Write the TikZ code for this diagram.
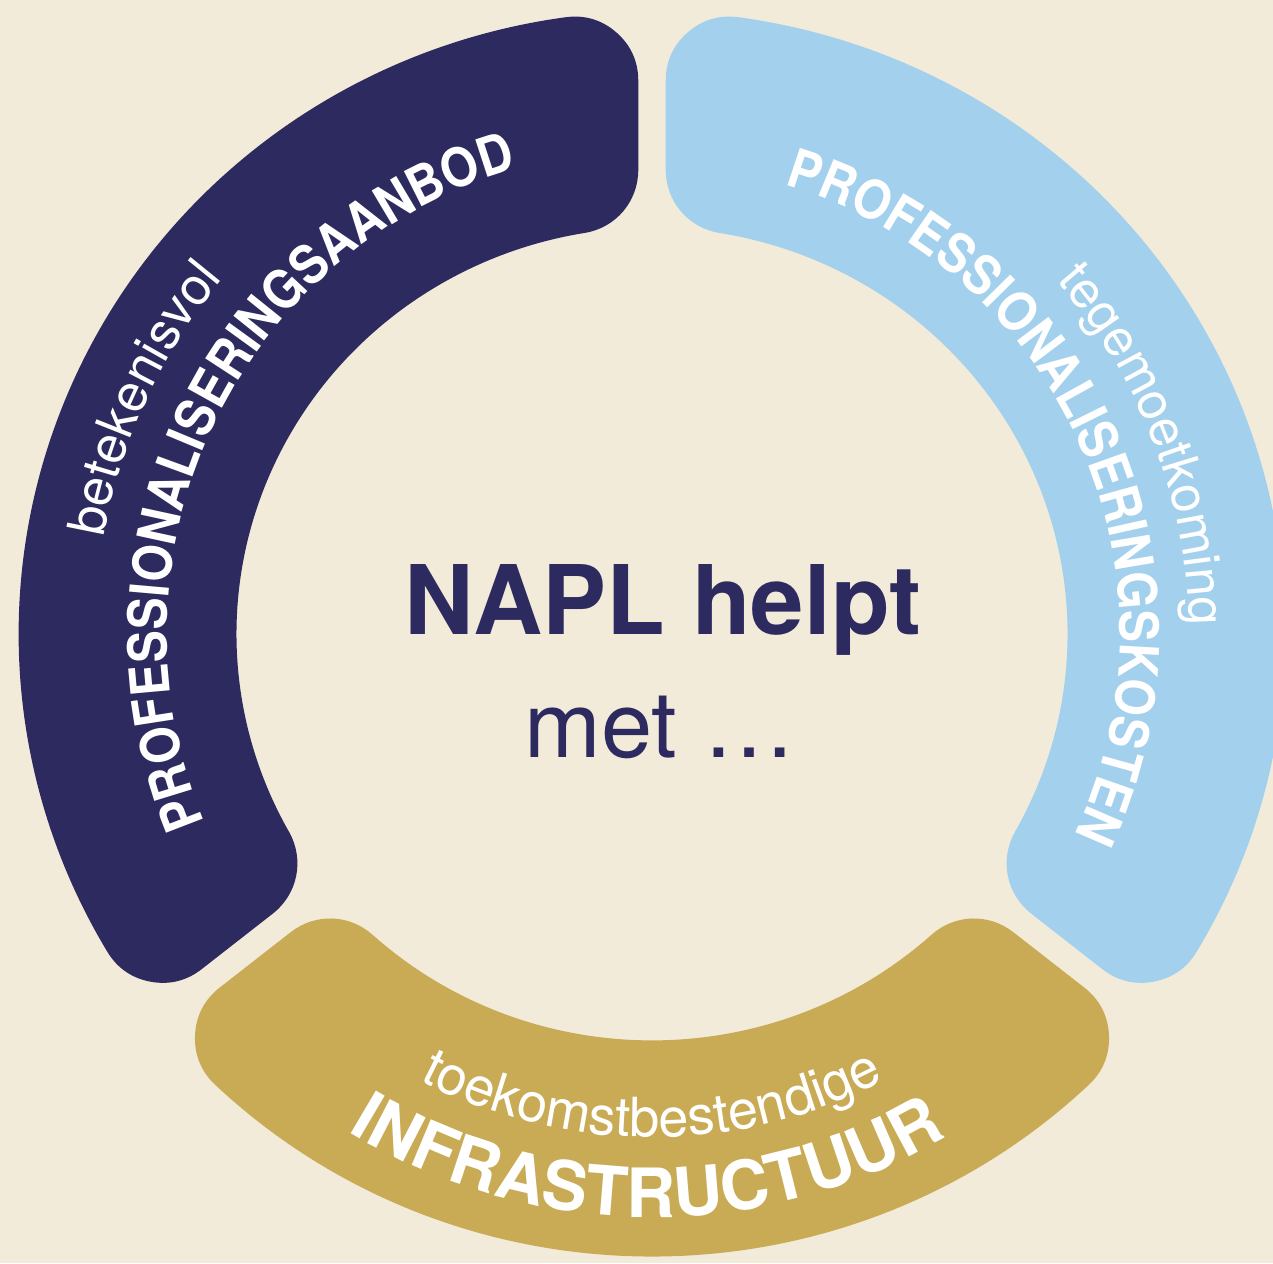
\documentclass[tikz,border=0pt]{standalone}
\usepackage{fontspec}
\setmainfont{TeX Gyre Heros}
\newfontfamily\arcbold{TeX Gyre Heros}[FakeStretch=0.89]
\usetikzlibrary{decorations.text,calc}
\definecolor{bg}{RGB}{242,235,218}
\definecolor{navy}{RGB}{44,42,94}
\definecolor{sky}{RGB}{163,209,237}
\definecolor{gold}{RGB}{201,171,86}
\newcommand\napseg[3]{%
  \pgfmathsetmacro\rr{64}%
  \pgfmathsetmacro\ro{628-\rr}\pgfmathsetmacro\ri{411+\rr}\pgfmathsetmacro\dd{13+\rr}%
  \pgfmathsetmacro\lw{2*\rr}%
  \pgfmathsetmacro\aoS{#2+asin(\dd/\ro)}\pgfmathsetmacro\aoE{#3-asin(\dd/\ro)}%
  \pgfmathsetmacro\aiS{#2+asin(\dd/\ri)}\pgfmathsetmacro\aiE{#3-asin(\dd/\ri)}%
  \filldraw[#1, line width=\lw pt, line join=round]
    (\aoS:\ro pt) arc[start angle=\aoS, end angle=\aoE, radius=\ro pt]
    -- (\aiE:\ri pt) arc[start angle=\aiE, end angle=\aiS, radius=\ri pt] -- cycle;}
\newcommand\naparc[5]{% radius, start, end, font, text
  \path[decorate, decoration={text along path, text align=center, text color=white,
      text={|#4|#5}}]
    ([shift={(C)}]#2:#1pt) arc[start angle=#2, end angle=#3, radius=#1pt];}
\begin{document}
\begin{tikzpicture}[x=1pt,y=1pt]
\fill[bg] (0,0) rectangle (1273,1263);
\useasboundingbox (0,0) rectangle (1273,1263);
\coordinate (C) at (652,629);
\begin{scope}[shift={(652,629)}, xscale=1.0096, yscale=0.9904]
\napseg{navy}{90}{218.5}
\napseg{sky}{-38.5}{90}
\napseg{gold}{218.5}{321.5}
\end{scope}
% dark arc texts
\naparc{485}{214.5}{94.5}{\arcbold\bfseries\fontsize{54}{54}\selectfont}{PROFESSIONALISERINGSAANBOD}
\naparc{557}{215.2}{95.2}{\fontsize{52}{52}\selectfont}{betekenisvol}
% blue arc texts
\naparc{468}{84}{-36}{\arcbold\bfseries\fontsize{54}{54}\selectfont}{PROFESSIONALISERINGSKOSTEN}
\naparc{537}{81}{-39}{\fontsize{51}{51}\selectfont}{tegemoetkoming}
% gold arc texts
\naparc{583}{209.5}{329.5}{\bfseries\fontsize{68}{68}\selectfont}{INFRASTRUCTUUR}
\naparc{503}{210}{330}{\fontsize{54}{54}\selectfont}{toekomstbestendige}
% centre
\node[navy, anchor=base, font=\bfseries\fontsize{96}{96}\selectfont] (title) at (663,628) {NAPL helpt};
\node[navy, anchor=base, font=\fontsize{92}{92}\selectfont] (sub) at (660,505) {met …};
\end{tikzpicture}
\end{document}
